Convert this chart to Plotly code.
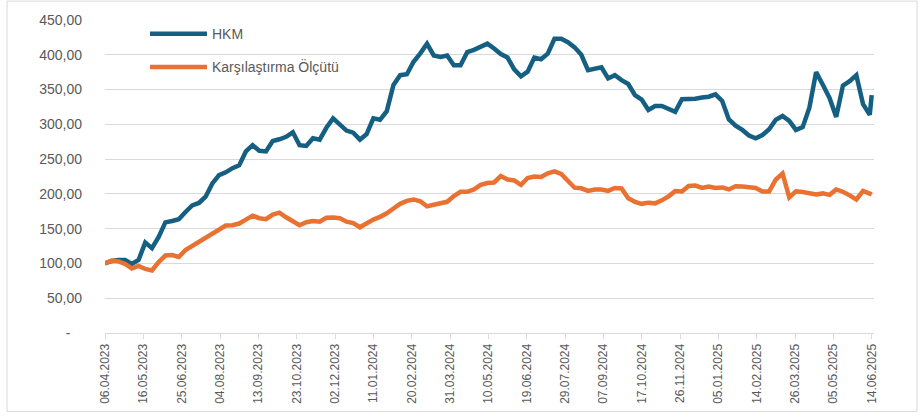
import pandas as pd
import plotly.graph_objects as go

# Weekly observations from 06.04.2023, plus the final day 14.06.2025
start_date = "2023-04-06"
end_date = "2025-06-14"
dates = list(pd.date_range(start_date, periods=115, freq="7D")) + [pd.Timestamp(end_date)]

hkm = [100.0, 103.6, 105.0, 105.0, 99.3, 105.0, 130.0, 122.0, 138.0, 159.0,
       161.0, 163.5, 174.0, 183.5, 187.0, 196.0, 215.0, 227.0, 231.0, 237.0,
       241.0, 261.0, 270.0, 262.0, 261.0, 276.0, 278.5, 282.0, 288.5, 270.0,
       269.0, 280.0, 278.0, 295.0, 308.5, 300.0, 291.0, 288.0, 278.0, 286.0,
       308.5, 306.5, 319.0, 356.5, 370.7, 372.0, 390.0, 402.0, 416.0, 399.0,
       397.0, 399.0, 385.0, 385.0, 404.0, 407.0, 411.0, 416.0, 409.0, 401.0,
       396.0, 379.0, 369.0, 375.7, 396.0, 393.6, 401.7, 423.0, 423.0, 418.0,
       410.7, 400.0, 378.0, 380.0, 382.0, 366.0, 370.7, 363.6, 358.0, 342.0,
       335.7, 320.7, 326.4, 326.4, 323.0, 318.0, 336.0, 336.0, 336.7, 338.6,
       339.7, 343.0, 333.6, 307.0, 298.0, 292.0, 284.0, 280.0, 284.6, 293.0,
       306.7, 312.0, 305.0, 292.0, 296.0, 324.0, 375.0, 357.0, 338.0, 310.7,
       355.7, 362.0, 370.7, 329.0, 313.6, 342.0]

benchmark = [100.0, 104.0, 103.0, 99.3, 92.9, 96.4, 92.1, 90.0, 102.0, 111.4,
             112.0, 109.3, 119.3, 125.0, 130.7, 136.4, 142.9, 148.6, 154.6, 155.0,
             157.4, 163.0, 168.6, 165.0, 163.6, 170.3, 173.0, 166.4, 160.7, 155.0,
             159.3, 161.0, 160.0, 165.7, 166.0, 165.0, 160.0, 157.9, 152.0, 157.9,
             163.0, 167.0, 172.0, 179.0, 185.7, 190.0, 192.0, 189.3, 182.0, 184.3,
             186.4, 188.6, 197.0, 203.0, 203.0, 206.4, 212.9, 215.7, 216.4, 225.7,
             220.7, 219.3, 212.9, 222.9, 225.0, 224.3, 229.6, 232.4, 228.6, 218.6,
             208.9, 208.0, 204.3, 206.4, 206.4, 204.3, 208.6, 207.9, 193.6, 188.6,
             185.7, 187.4, 186.4, 190.7, 196.4, 204.0, 203.6, 211.4, 212.0, 208.6,
             210.7, 208.6, 209.3, 206.4, 211.0, 210.7, 209.3, 208.6, 203.6, 203.6,
             220.7, 229.3, 195.0, 203.6, 202.7, 201.4, 199.3, 200.7, 198.6, 206.4,
             203.1, 197.9, 192.0, 204.3, 200.7, 199.3]

series_names = ["HKM", "Karşılaştırma Ölçütü"]

# Date labels every 40 days
tick_dates = pd.date_range(start_date, end_date, freq="40D")
tick_text = [d.strftime("%d.%m.%Y") for d in tick_dates]

y_ticks = [0, 50, 100, 150, 200, 250, 300, 350, 400, 450]
y_text = ["-\u00a0\u00a0\u00a0", "50,00", "100,00", "150,00", "200,00",
          "250,00", "300,00", "350,00", "400,00", "450,00"]

TEXT = "#595959"
GRID = "#d9d9d9"
BLUE = "#156082"
ORANGE = "#E97132"

fig = go.Figure()
fig.add_trace(go.Scatter(x=dates, y=hkm, mode="lines", name=series_names[0],
                         legendgroup="a",
                         line=dict(color=BLUE, width=4.5)))
fig.add_trace(go.Scatter(x=dates, y=benchmark, mode="lines", name=series_names[1],
                         legendgroup="b",
                         line=dict(color=ORANGE, width=4.5)))

fig.update_layout(
    width=923, height=416,
    margin=dict(l=105, r=49, t=20, b=81),
    paper_bgcolor="white", plot_bgcolor="white",
    font=dict(family="Liberation Sans, Arial, sans-serif", color=TEXT),
    legend=dict(x=0.052, y=1.006, xanchor="left", yanchor="top",
                bgcolor="rgba(0,0,0,0)", font=dict(size=14, color=TEXT),
                itemwidth=57, tracegroupgap=12),
    shapes=[dict(type="rect", xref="paper", yref="paper",
                 x0=-0.1274, x1=1.0559, y0=-0.2508, y1=1.0604,
                 line=dict(color=GRID, width=1), fillcolor="rgba(0,0,0,0)",
                 layer="below")],
)

fig.update_xaxes(
    range=["2023-04-06", "2025-06-16 10:00"],
    tickmode="array", tickvals=tick_dates, ticktext=tick_text,
    tickangle=-90, tickfont=dict(size=12, color=TEXT),
    showgrid=False, showline=True, linecolor=GRID, linewidth=1,
    ticks="outside", ticklen=5, tickcolor=GRID, zeroline=False,
)
fig.update_yaxes(
    range=[0, 450], tickmode="array", tickvals=y_ticks, ticktext=y_text,
    tickfont=dict(size=14, color=TEXT),
    showgrid=True, gridcolor=GRID, gridwidth=1,
    showline=False, zeroline=False, ticks="", ticklabelstandoff=22,
)

fig.write_html("out.html")
